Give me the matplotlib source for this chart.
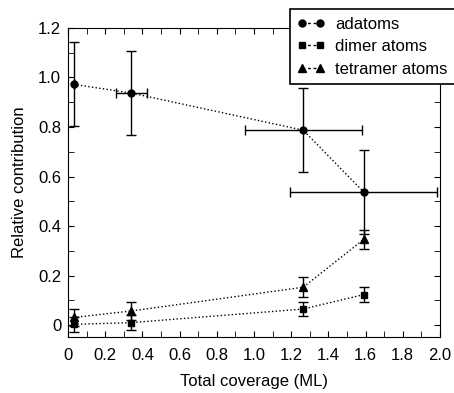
import matplotlib.pyplot as plt
from matplotlib.lines import Line2D
from matplotlib.ticker import MultipleLocator

plt.rcParams['font.family'] = ['Liberation Sans', 'DejaVu Sans']

# Data
coverage = [0.03, 0.34, 1.265, 1.59]
coverage_err = [0.0, 0.085, 0.315, 0.395]

adatoms = [0.972, 0.937, 0.787, 0.537]
adatoms_err = [0.17, 0.17, 0.17, 0.17]

dimer = [0.003, 0.01, 0.065, 0.123]
dimer_err = [0.03, 0.03, 0.03, 0.03]

tetramer = [0.031, 0.057, 0.153, 0.346]
tetramer_err = [0.036, 0.037, 0.04, 0.04]

labels = ['adatoms', 'dimer atoms', 'tetramer atoms']
markers = ['o', 's', '^']
msizes = [5, 4.5, 5.5]

fig = plt.figure(figsize=(4.54, 3.93), dpi=100)
ax = fig.add_axes([0.15, 0.1425, 0.819, 0.7865])

common = dict(color='black', linestyle=':', linewidth=1.0, elinewidth=1.0,
              capsize=3.5, capthick=1.0)
ax.errorbar(coverage, adatoms, xerr=coverage_err, yerr=adatoms_err,
            marker=markers[0], markersize=msizes[0], **common)
ax.errorbar(coverage, dimer, yerr=dimer_err,
            marker=markers[1], markersize=msizes[1], **common)
ax.errorbar(coverage, tetramer, yerr=tetramer_err,
            marker=markers[2], markersize=msizes[2], **common)

ax.set_xlim(0, 2.0)
ax.set_ylim(-0.048, 1.2)
ax.xaxis.set_minor_locator(MultipleLocator(0.1))
ax.yaxis.set_minor_locator(MultipleLocator(0.1))
ax.set_xticks([0, 0.2, 0.4, 0.6, 0.8, 1.0, 1.2, 1.4, 1.6, 1.8, 2.0])
ax.set_xticklabels(['0', '0.2', '0.4', '0.6', '0.8', '1.0', '1.2', '1.4', '1.6', '1.8', '2.0'])
ax.set_yticks([0, 0.2, 0.4, 0.6, 0.8, 1.0, 1.2])
ax.set_yticklabels(['0', '0.2', '0.4', '0.6', '0.8', '1.0', '1.2'])
ax.tick_params(which='both', direction='in', top=True, right=True, labelsize=12)
ax.tick_params(which='major', length=4)
ax.tick_params(which='minor', length=4)
ax.tick_params(axis='x', which='major', pad=8)
ax.tick_params(axis='y', which='major', pad=5)

ax.set_xlabel('Total coverage (ML)', fontsize=12, labelpad=8)
ax.set_ylabel('Relative contribution', fontsize=12, labelpad=8)

handles = [Line2D([], [], color='black', linestyle=(0, (2, 2)), linewidth=1.0,
                  marker=m, markersize=s) for m, s in zip(markers, msizes)]
leg = fig.legend(handles, labels, loc='upper right', bbox_to_anchor=(1.003, 0.977),
                 borderaxespad=0, fontsize=12, numpoints=2, frameon=True,
                 fancybox=False, framealpha=1, edgecolor='black',
                 handlelength=1.7, handletextpad=0.6, borderpad=0.45,
                 labelspacing=0.45)
leg.get_frame().set_linewidth(1.2)

fig.savefig('out.png', dpi=100)
